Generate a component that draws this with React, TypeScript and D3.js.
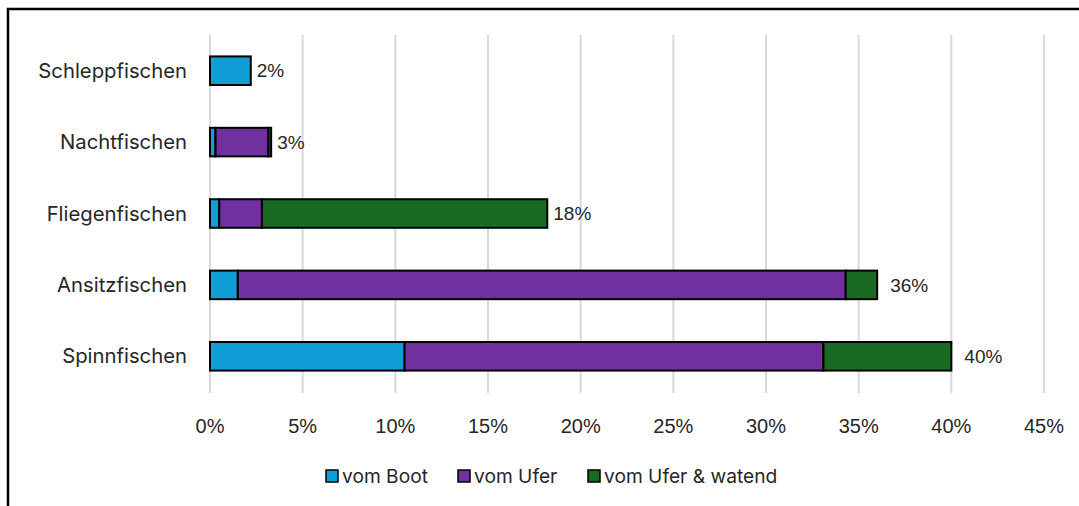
import * as d3 from 'd3';

// categories, top to bottom
const categories = ['Schleppfischen', 'Nachtfischen', 'Fliegenfischen', 'Ansitzfischen', 'Spinnfischen'];

// series values, in percent
const vomBoot = [2.2, 0.3, 0.5, 1.5, 10.5];
const vomUfer = [0, 2.85, 2.3, 32.8, 22.6];
const vomUferWatend = [0, 0.15, 15.4, 1.7, 6.9];

const seriesNames = ['vom Boot', 'vom Ufer', 'vom Ufer & watend'];
const seriesColors = ['#0f9ed5', '#7030a0', '#196b24'];

// total labels
const totalLabels = ['2%', '3%', '18%', '36%', '40%'];

const xTicks = [0, 5, 10, 15, 20, 25, 30, 35, 40, 45];

const W = 1079;
const H = 506;

export default function App() {
  const x = d3.scaleLinear().domain([0, 45]).range([210, 1044]);
  const y = d3.scaleBand().domain(categories).range([35, 392]).paddingInner(0.6).paddingOuter(0.3);

  const rows = categories.map((c, i) => ({ cat: c, vomBoot: vomBoot[i], vomUfer: vomUfer[i], vomUferWatend: vomUferWatend[i] }));
  const keys = ['vomBoot', 'vomUfer', 'vomUferWatend'];
  const stacked = d3.stack<any>().keys(keys)(rows);

  const legendX = [326, 458, 588];
  const tickFont = '"Liberation Sans", Arial, sans-serif';
  const labelFont = 'Inter, "Noto Sans", sans-serif';

  return (
    <svg width={W} height={H} style={{ position: 'absolute', left: 0, top: 0 }}>
      <rect x={0} y={0} width={W} height={H} fill="#fff" />
      <rect x={8} y={9} width={W + 10} height={H + 10} fill="none" stroke="#000" strokeWidth={2.5} />

      {xTicks.map((t) => (
        <g key={t}>
          <line x1={x(t)} x2={x(t)} y1={35} y2={393} stroke="#d9d9d9" strokeWidth={2} />
          <text x={x(t)} y={433} textAnchor="middle" fontFamily={tickFont} fontSize={20} fill="#262626">
            {t}%
          </text>
        </g>
      ))}

      {stacked.map((s, si) => (
        <g key={s.key}>
          {s.map((d, i) =>
            d[1] - d[0] > 0 ? (
              <rect
                key={i}
                x={x(d[0])}
                y={y(categories[i])!}
                width={x(d[1]) - x(d[0])}
                height={y.bandwidth()}
                fill={seriesColors[si]}
                stroke="#000"
                strokeWidth={2}
              />
            ) : null
          )}
        </g>
      ))}

      {categories.map((c, i) => {
        const total = vomBoot[i] + vomUfer[i] + vomUferWatend[i];
        const cy = y(c)! + y.bandwidth() / 2;
        return (
          <g key={c}>
            <text x={187} y={cy} dy="0.35em" textAnchor="end" fontFamily={labelFont} fontSize={20.3} fill="#262626">
              {c}
            </text>
            <text x={x(total) + 6 + (total > 30 ? 7 : 0)} y={cy} dy="0.35em" fontFamily={tickFont} fontSize={19} fill="#262626">
              {totalLabels[i]}
            </text>
          </g>
        );
      })}

      {seriesNames.map((n, i) => (
        <g key={n} transform={`translate(${legendX[i]},476)`}>
          <rect x={0} y={-6} width={12} height={12} fill={seriesColors[i]} stroke="#000" strokeWidth={1.5} />
          <text x={16} y={0} dy="0.35em" fontFamily={labelFont} fontSize={19.2} fill="#262626">
            {n}
          </text>
        </g>
      ))}
    </svg>
  );
}
